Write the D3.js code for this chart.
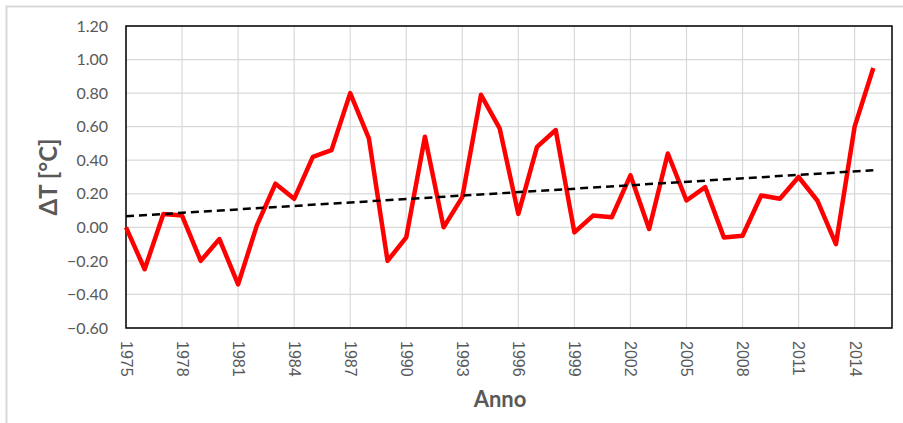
<!DOCTYPE html>
<html>
<head>
<meta charset="utf-8">
<script src="https://cdn.jsdelivr.net/npm/d3@7"></script>
<style>
    body { margin: 0; background: #fff; }
    text { font-family: Lato, "Open Sans", sans-serif; fill: #595959; }
</style>
</head>
<body>
<div id="chart"></div>
<script>
// anni e anomalie di temperatura
var years = d3.range(1975, 2016);
var deltaT = [0.00, -0.25, 0.08, 0.07, -0.20, -0.07, -0.34, 0.01, 0.26, 0.17,
              0.42, 0.46, 0.80, 0.53, -0.20, -0.06, 0.54, 0.00, 0.18, 0.79,
              0.59, 0.08, 0.48, 0.58, -0.03, 0.07, 0.06, 0.31, -0.01, 0.44,
              0.16, 0.24, -0.06, -0.05, 0.19, 0.17, 0.30, 0.16, -0.10, 0.60,
              0.95];
var yTicks = [-0.6, -0.4, -0.2, 0, 0.2, 0.4, 0.6, 0.8, 1.0, 1.2];
var xTicks = d3.range(1975, 2015, 3);

var width = 903;
var height = 423;
var margin = { top: 26, right: 11, bottom: 95, left: 126 };

var svg = d3.select('#chart')
    .append('svg')
    .attr('width', width)
    .attr('height', height);

// bordo esterno del grafico
svg.append('rect')
    .attr('x', 6.5).attr('y', 6.5)
    .attr('width', 1000).attr('height', 1000)
    .attr('fill', 'none')
    .attr('stroke', '#d9d9d9')
    .attr('stroke-width', 2);

var x = d3.scaleLinear()
    .domain([1975, 2016])
    .range([margin.left, width - margin.right]);

var y = d3.scaleLinear()
    .domain([-0.6, 1.2])
    .range([height - margin.bottom, margin.top]);

// griglia
svg.append('g')
    .selectAll('line.h')
    .data(yTicks)
    .enter()
    .append('line')
    .attr('x1', x.range()[0]).attr('x2', x.range()[1])
    .attr('y1', function(d) { return y(d); })
    .attr('y2', function(d) { return y(d); })
    .attr('stroke', '#d9d9d9')
    .attr('stroke-width', 1.2);

svg.append('g')
    .selectAll('line.v')
    .data(xTicks)
    .enter()
    .append('line')
    .attr('x1', function(d) { return x(d); })
    .attr('x2', function(d) { return x(d); })
    .attr('y1', y.range()[0]).attr('y2', y.range()[1])
    .attr('stroke', '#d9d9d9')
    .attr('stroke-width', 1.2);

// etichette asse y
var yAxis = d3.axisLeft(y)
    .tickValues(yTicks)
    .tickFormat(d3.format('.2f'))
    .tickSize(0)
    .tickPadding(18);

svg.append('g')
    .attr('transform', 'translate(' + margin.left + ',0)')
    .call(yAxis)
    .call(function(g) { g.select('.domain').remove(); })
    .selectAll('text')
    .style('font-size', '16px');

// etichette asse x (ruotate)
var xAxis = d3.axisBottom(x)
    .tickValues(xTicks)
    .tickFormat(d3.format('d'))
    .tickSize(0);

svg.append('g')
    .attr('transform', 'translate(0,' + y.range()[0] + ')')
    .call(xAxis)
    .call(function(g) { g.select('.domain').remove(); })
    .selectAll('text')
    .style('font-size', '16px')
    .style('font-family', '"Liberation Sans", Arial, sans-serif')
    .attr('text-anchor', 'start')
    .attr('dy', '0.35em')
    .attr('y', 0)
    .attr('transform', 'translate(0,13) rotate(90)');

// bordo dell'area del grafico
svg.append('rect')
    .attr('x', x.range()[0]).attr('y', y.range()[1])
    .attr('width', x.range()[1] - x.range()[0])
    .attr('height', y.range()[0] - y.range()[1])
    .attr('fill', 'none')
    .attr('stroke', '#000')
    .attr('stroke-width', 1.5);

var data = years.map(function(yr, i) { return { year: yr, value: deltaT[i] }; });

var line = d3.line()
    .x(function(d) { return x(d.year); })
    .y(function(d) { return y(d.value); });

svg.append('path')
    .datum(data)
    .attr('d', line)
    .attr('fill', 'none')
    .attr('stroke', '#ff0000')
    .attr('stroke-width', 4.5)
    .attr('stroke-linejoin', 'round');

// linea di tendenza (minimi quadrati)
var mx = d3.mean(years);
var my = d3.mean(deltaT);
var num = d3.sum(years, function(d, i) { return (d - mx) * (deltaT[i] - my); });
var den = d3.sum(years, function(d) { return (d - mx) * (d - mx); });
var slope = num / den;
var trend = [years[0], years[years.length - 1]].map(function(yr) {
    return { year: yr, value: my + slope * (yr - mx) };
});

svg.append('path')
    .datum(trend)
    .attr('d', line)
    .attr('fill', 'none')
    .attr('stroke', '#000')
    .attr('stroke-width', 2.5)
    .attr('stroke-dasharray', '8,5');

// titoli assi
svg.append('text')
    .attr('x', 500)
    .attr('y', 407)
    .attr('text-anchor', 'middle')
    .style('font-size', '22px')
    .style('font-weight', 'bold')
    .text('Anno');

svg.append('text')
    .attr('transform', 'translate(57,' + ((y.range()[0] + y.range()[1]) / 2) + ') rotate(-90)')
    .attr('text-anchor', 'middle')
    .style('font-size', '24px')
    .style('font-weight', 'bold')
    .text('ΔT [°C]');
</script>
</body>
</html>
